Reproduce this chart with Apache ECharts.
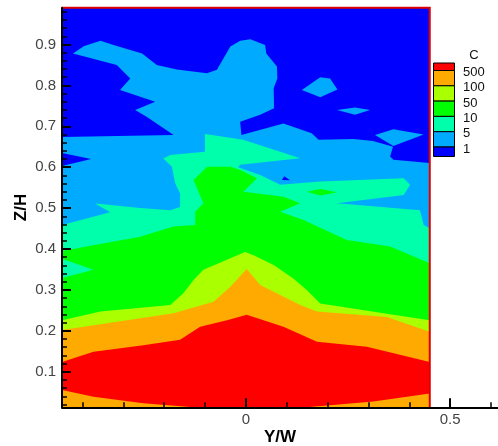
<!DOCTYPE html>
<html><head><meta charset="utf-8">
<script src="https://cdn.jsdelivr.net/npm/echarts@6/dist/echarts.min.js"></script>
<style>html,body{margin:0;padding:0;background:#fff}#c{width:498px;height:446px}</style>
</head><body><div id="c"></div>
<script>
// ---- axis ranges ----
const X_MIN = -0.45, X_MAX = 0.45, Z_MIN = 0.013, Z_MAX = 0.99;
const X_AXIS_MAX = 0.617;

// ---- ticks ----
const xMajorTicks = [0, 0.5];
const xMinorTicks = [-0.4, -0.3, -0.2, -0.1, 0.1, 0.2, 0.3, 0.4, 0.6];
const yMajorTicks = [0.1, 0.2, 0.3, 0.4, 0.5, 0.6, 0.7, 0.8, 0.9];
const yMinorTicks = [0.02,0.04,0.06,0.08,0.12,0.14,0.16,0.18,0.22,0.24,0.26,0.28,0.32,0.34,0.36,0.38,
  0.42,0.44,0.46,0.48,0.52,0.54,0.56,0.58,0.62,0.64,0.66,0.68,0.72,0.74,0.76,0.78,0.82,0.84,0.86,0.88,
  0.92,0.94,0.96,0.98];

// ---- contour levels (legend) ----
const levelLabels = ['500', '100', '50', '10', '5', '1'];
const levelColors = ['#FF0000', '#FFAA00', '#AAFF00', '#00FF00', '#00FFAA', '#00AAFF', '#0000FF'];

// ---- contour regions [Y/W, Z/H] ----
const domain = [[X_MIN, Z_MIN], [X_MAX, Z_MIN], [X_MAX, Z_MAX], [X_MIN, Z_MAX]];

const regionC1 = [[-0.45,0.013],[-0.45,0.674],[-0.177,0.679],[-0.242,0.723],[-0.271,0.740],[-0.222,0.760],
  [-0.308,0.789],[-0.283,0.817],[-0.316,0.850],[-0.423,0.878],[-0.397,0.896],[-0.356,0.909],[-0.324,0.899],
  [-0.254,0.878],[-0.218,0.850],[-0.169,0.839],[-0.095,0.830],[-0.071,0.838],[-0.038,0.895],[-0.014,0.909],
  [0.011,0.913],[0.047,0.899],[0.050,0.878],[0.076,0.846],[0.077,0.817],[0.068,0.793],[0.069,0.744],
  [0.035,0.728],[-0.014,0.711],[-0.011,0.679],[0.092,0.707],[0.161,0.683],[0.178,0.667],[0.263,0.669],
  [0.311,0.664],[0.348,0.654],[0.360,0.650],[0.353,0.626],[0.361,0.618],[0.45,0.610],[0.45,0.013]];
const islandC1a = [[0.137,0.789],[0.182,0.820],[0.206,0.817],[0.224,0.790],[0.182,0.771]];
const islandC1b = [[0.223,0.740],[0.267,0.746],[0.304,0.740],[0.267,0.728]];
const islandC1c = [[0.316,0.679],[0.361,0.693],[0.435,0.680],[0.361,0.652]];
const holeBelow1a = [[-0.45,0.635],[-0.379,0.620],[-0.45,0.603]];
const holeBelow1b = [[0.094,0.578],[0.108,0.568],[0.088,0.569]];

const regionC5 = [[-0.45,0.013],[-0.45,0.459],[-0.332,0.490],[-0.369,0.511],[-0.259,0.500],[-0.185,0.495],
  [-0.161,0.503],[-0.161,0.536],[-0.173,0.561],[-0.181,0.601],[-0.202,0.621],[-0.185,0.630],[-0.100,0.638],
  [-0.100,0.681],[-0.007,0.667],[0.133,0.622],[-0.014,0.606],[-0.019,0.600],[0.035,0.581],[0.084,0.557],
  [0.182,0.565],[0.386,0.573],[0.402,0.557],[0.386,0.532],[0.223,0.512],[0.426,0.495],[0.435,0.459],
  [0.45,0.451],[0.45,0.013]];
const islandC5 = [[-0.45,0.376],[-0.373,0.349],[-0.45,0.329]];

const regionC10 = [[-0.45,0.013],[-0.45,0.395],[-0.259,0.430],[-0.177,0.455],[-0.124,0.459],[-0.124,0.491],
  [-0.104,0.512],[-0.128,0.569],[-0.095,0.601],[-0.038,0.601],[-0.014,0.593],[0.027,0.573],[-0.006,0.540],
  [0.092,0.528],[0.133,0.512],[0.084,0.491],[0.141,0.471],[0.247,0.422],[0.353,0.406],[0.45,0.365],[0.45,0.013]];
const islandC10 = [[0.149,0.540],[0.182,0.547],[0.223,0.539],[0.182,0.531]];

const regionC50 = [[-0.45,0.013],[-0.45,0.226],[-0.356,0.247],[-0.185,0.263],[-0.153,0.292],[-0.128,0.324],
  [-0.104,0.349],[-0.002,0.393],[0.019,0.385],[0.068,0.361],[0.116,0.328],[0.149,0.300],[0.182,0.267],
  [0.337,0.243],[0.45,0.226],[0.45,0.013]];

const regionC100 = [[-0.45,0.013],[-0.45,0.202],[-0.291,0.226],[-0.177,0.243],[-0.079,0.271],[-0.038,0.308],
  [0.002,0.351],[0.035,0.312],[0.133,0.263],[0.174,0.247],[0.345,0.234],[0.45,0.198],[0.45,0.013]];

const regionC500 = [[-0.45,0.124],[-0.373,0.149],[-0.251,0.165],[-0.161,0.178],[-0.112,0.210],[-0.046,0.226],
  [0.002,0.239],[0.092,0.210],[0.174,0.173],[0.296,0.161],[0.45,0.124],[0.45,0.047],[0.312,0.027],
  [0.149,0.013],[-0.128,0.013],[-0.251,0.023],[-0.373,0.039],[-0.45,0.055]];

// paint order (color index into levelColors)
const layers = [
  { pts: domain, c: 6 },
  { pts: regionC1, c: 5 }, { pts: islandC1a, c: 5 }, { pts: islandC1b, c: 5 }, { pts: islandC1c, c: 5 },
  { pts: holeBelow1a, c: 6 }, { pts: holeBelow1b, c: 6 },
  { pts: regionC5, c: 4 },
  { pts: regionC10, c: 3 }, { pts: islandC10, c: 3 }, { pts: islandC5, c: 4 },
  { pts: regionC50, c: 2 },
  { pts: regionC100, c: 1 },
  { pts: regionC500, c: 0 },
  { pts: [[X_MIN, Z_MAX], [X_MAX, Z_MAX], [X_MAX, Z_MIN]], frame: true }
];

const FONT = 'Liberation Sans, Arial, sans-serif';
const chart = echarts.init(document.getElementById('c'), null, { renderer: 'canvas' });

// legend graphics
const legBounds = [62.5, 70, 85.3, 100.6, 115.9, 131.2, 146.5, 156];
const graphics = [];
for (let i = 0; i < levelColors.length; i++) {
  graphics.push({ type: 'rect', left: 433, top: legBounds[i],
    shape: { width: 21, height: legBounds[i + 1] - legBounds[i] },
    style: { fill: levelColors[i], stroke: '#000', lineWidth: 1 } });
}
for (let i = 0; i < levelLabels.length; i++) {
  graphics.push({ type: 'text', x: 463, y: legBounds[i + 1] + 2.5,
    style: { text: levelLabels[i], font: '13px ' + FONT, fill: '#111', textVerticalAlign: 'middle', textAlign: 'left' } });
}
graphics.push({ type: 'text', x: 474, y: 55.7,
  style: { text: 'C', font: '13px ' + FONT, fill: '#111', textVerticalAlign: 'middle', textAlign: 'center' } });

const fmt = v => String(Math.round(v * 10) / 10);

chart.setOption({
  animation: false,
  backgroundColor: '#fff',
  grid: { left: 62, right: 0, top: 7.7, bottom: 38.7, containLabel: false, outerBoundsMode: 'none' },
  xAxis: [
    { type: 'value', min: -0.45, max: X_AXIS_MAX, position: 'bottom', z: 5,
      axisLine: { onZero: false, lineStyle: { color: '#000', width: 2 } },
      axisTick: { customValues: xMajorTicks, inside: true, length: 9, lineStyle: { color: '#000', width: 2 } },
      axisLabel: { customValues: xMajorTicks, formatter: fmt, fontSize: 15, fontFamily: FONT, color: '#444', margin: 5 },
      splitLine: { show: false },
      name: 'Y/W', nameLocation: 'middle', nameGap: 22, nameMoveOverlap: false,
      nameTextStyle: { fontWeight: 'bold', fontSize: 17, fontFamily: FONT, color: '#000' } },
    { type: 'value', min: -0.45, max: X_AXIS_MAX, position: 'bottom', z: 5,
      axisLine: { show: false, onZero: false },
      axisTick: { customValues: xMinorTicks, inside: true, length: 5, lineStyle: { color: '#000', width: 1.5 } },
      axisLabel: { show: false }, splitLine: { show: false } }
  ],
  yAxis: [
    { type: 'value', min: Z_MIN, max: Z_MAX, position: 'left', z: 5,
      axisLine: { onZero: false, lineStyle: { color: '#000', width: 2 } },
      axisTick: { customValues: yMajorTicks, inside: true, length: 9, lineStyle: { color: '#000', width: 2 } },
      axisLabel: { customValues: yMajorTicks, formatter: fmt, fontSize: 15, fontFamily: FONT, color: '#444', margin: 6 },
      splitLine: { show: false },
      name: 'Z/H', nameLocation: 'middle', nameGap: 32, nameMoveOverlap: false,
      nameTextStyle: { fontWeight: 'bold', fontSize: 17, fontFamily: FONT, color: '#000' } },
    { type: 'value', min: Z_MIN, max: Z_MAX, position: 'left', z: 5,
      axisLine: { show: false, onZero: false },
      axisTick: { customValues: yMinorTicks, inside: true, length: 5, lineStyle: { color: '#000', width: 1.5 } },
      axisLabel: { show: false }, splitLine: { show: false } }
  ],
  graphic: graphics,
  series: [{
    type: 'custom', xAxisIndex: 0, yAxisIndex: 0, z: 1, clip: false, silent: true,
    data: layers.map((l, i) => [i]),
    encode: { x: -1, y: -1 },
    renderItem: function (params, api) {
      const layer = layers[params.dataIndex];
      const pts = layer.pts.map(p => api.coord(p));
      if (layer.frame) {
        return { type: 'polyline', shape: { points: pts }, style: { stroke: '#E00000', lineWidth: 2, fill: null } };
      }
      return { type: 'polygon', shape: { points: pts }, style: { fill: levelColors[layer.c] } };
    }
  }]
});
</script>
</body></html>
